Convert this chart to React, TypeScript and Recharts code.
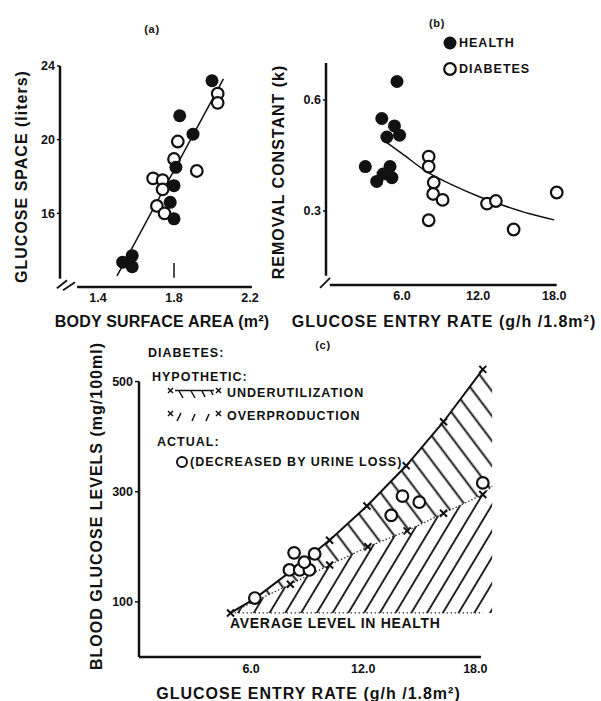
import React from "react";
import {
  ComposedChart,
  Scatter,
  Line,
  Area,
  XAxis,
  YAxis,
  ReferenceLine,
  Legend,
} from "recharts";

// (a) glucose space vs body surface area
const aHealthBsa = [2.0, 1.83, 1.9, 1.81, 1.8, 1.78, 1.8, 1.58, 1.53, 1.58];
const aHealthSpace = [23.2, 21.3, 20.3, 18.5, 17.5, 16.6, 15.7, 13.7, 13.35, 13.1];
const aDiabBsa = [2.03, 2.03, 1.82, 1.8, 1.92, 1.69, 1.74, 1.74, 1.71, 1.75];
const aDiabSpace = [22.5, 22.0, 19.9, 18.95, 18.3, 17.9, 17.8, 17.3, 16.4, 16.0];
const aFitBsa = [1.5, 2.06];
const aFitSpace = [12.6, 23.3];
const aTicksX = [1.4, 1.8, 2.2];
const aTicksY = [16, 20, 24];

// (b) removal constant vs glucose entry rate
const bHealthRate = [5.6, 4.4, 5.4, 5.8, 4.8, 3.1, 5.05, 4.0, 4.5, 5.2];
const bHealthK = [0.65, 0.55, 0.53, 0.505, 0.5, 0.42, 0.42, 0.38, 0.4, 0.39];
const bDiabRate = [8.1, 8.1, 8.5, 8.45, 9.2, 8.1, 12.7, 13.4, 14.8, 18.2];
const bDiabK = [0.447, 0.42, 0.377, 0.346, 0.33, 0.275, 0.32, 0.327, 0.25, 0.35];
const bFitRate = [4.8, 6, 8, 10, 12, 14, 16, 18];
const bFitK = [0.485, 0.455, 0.405, 0.37, 0.34, 0.315, 0.293, 0.276];
const bTicksX = [6, 12, 18];
const bTicksY = [0.3, 0.6];

// (c) blood glucose vs glucose entry rate
const cUpperRate = [4.9, 6.2, 8.1, 10.2, 12.2, 14.3, 16.3, 18.4];
const cUpperLevel = [80, 106, 155, 212, 274, 347, 427, 522];
const cUpperMarked = [true, true, false, true, true, true, true, true];
const cLowerRate = [4.9, 8.1, 10.2, 12.25, 14.35, 16.3, 18.4, 18.9];
const cLowerLevel = [80, 132, 167, 200, 229, 261, 295, 310];
const cLowerMarked = [false, true, true, true, true, true, true, false];
const cHealthRate = [4.9, 18.4];
const cHealthLevel = [80, 80];
const cHatchRate = [4.9, 6.2, 8.1, 10.2, 12.2, 14.3, 16.3, 18.4, 18.9];
const cHatchTop = [80, 106, 155, 212, 274, 347, 427, 522, 500];
const cHatchMid = [80, 100, 132, 167, 200, 229, 261, 295, 310];
const cHatchBase = [80, 80, 80, 80, 80, 80, 80, 80, 80];
const cActualRate = [6.2, 8.3, 9.4, 8.05, 8.6, 9.12, 8.85, 13.5, 14.1, 15.0, 18.4];
const cActualLevel = [107, 189, 187, 158, 158, 158, 172, 257, 292, 281, 316];
const cTicksX = [6, 12, 18];
const cTicksY = [100, 300, 500];

const INK = "#111";
const FONT = "'Liberation Sans', Arial, sans-serif";

const pts = (xs: number[], ys: number[]) => xs.map((x, i) => ({ x, y: ys[i] }));
const marked = (xs: number[], ys: number[], m: boolean[]) =>
  pts(xs, ys).filter((_, i) => m[i]);

const hatchData = cHatchRate.map((x, i) => ({
  x,
  under: [cHatchMid[i], cHatchTop[i]],
  over: [cHatchBase[i], cHatchMid[i]],
}));

const tickStyle = { fill: INK, fontSize: 12.5, fontWeight: 700, fontFamily: FONT };

const FilledDot = (p: any) => <circle cx={p.cx} cy={p.cy} r={6.5} fill={INK} />;
const OpenDot = (p: any) => (
  <circle cx={p.cx} cy={p.cy} r={5.8} fill="#fff" stroke={INK} strokeWidth={2.2} />
);
const Cross = (p: any) => (
  <g stroke={INK} strokeWidth={2}>
    <line x1={p.cx - 3.5} y1={p.cy - 3.5} x2={p.cx + 3.5} y2={p.cy + 3.5} />
    <line x1={p.cx - 3.5} y1={p.cy + 3.5} x2={p.cx + 3.5} y2={p.cy - 3.5} />
  </g>
);

function titleLabel(text: string, dx: number, dy: number, vertical = false, spacing = 1) {
  return (props: any) => {
    const vb = props.viewBox || {};
    const cx = (vb.x ?? 0) + (vb.width ?? 0) / 2 + dx;
    const cy = (vb.y ?? 0) + (vb.height ?? 0) / 2 + dy;
    return (
      <text
        x={cx}
        y={cy}
        textAnchor="middle"
        dominantBaseline="central"
        fontFamily={FONT}
        fontSize={16}
        fontWeight={700}
        letterSpacing={spacing}
        fill={INK}
        transform={vertical ? `rotate(-90 ${cx} ${cy})` : undefined}
      >
        {text}
      </text>
    );
  };
}

const fix1 = (v: number) => v.toFixed(1);

function PanelA() {
  return (
    <ComposedChart width={601} height={701} margin={{ top: 66, left: 59, right: 351, bottom: 413 }}>
      <XAxis
        type="number"
        dataKey="x"
        domain={[1.2, 2.2]}
        ticks={aTicksX}
        tickFormatter={fix1}
        height={1}
        axisLine={false}
        tickLine={false}
        tickSize={3}
        tickMargin={3}
        tick={tickStyle}
        label={titleLabel("BODY SURFACE AREA (m²)", 7, 34, false, 0.2)}
      />
      <YAxis
        type="number"
        dataKey="y"
        domain={[12, 24]}
        ticks={aTicksY}
        width={1}
        axisLine={false}
        tickLine={{ stroke: INK, strokeWidth: 1.5 }}
        tickSize={3}
        tickMargin={2}
        tick={tickStyle}
        label={titleLabel("GLUCOSE SPACE (liters)", -38, 0, true, 1)}
      />
      <ReferenceLine segment={[{ x: 1.2, y: 12.45 }, { x: 1.2, y: 24 }]} stroke={INK} strokeWidth={2.5} ifOverflow="visible" />
      <ReferenceLine segment={[{ x: 1.29, y: 12 }, { x: 2.21, y: 12 }]} stroke={INK} strokeWidth={2.5} ifOverflow="visible" />
      <ReferenceLine segment={[{ x: 1.184, y: 11.93 }, { x: 1.237, y: 12.37 }]} stroke={INK} strokeWidth={1.8} ifOverflow="visible" />
      <ReferenceLine segment={[{ x: 1.216, y: 11.83 }, { x: 1.279, y: 12.26 }]} stroke={INK} strokeWidth={1.8} ifOverflow="visible" />
      <ReferenceLine segment={[{ x: 1.8, y: 12.5 }, { x: 1.8, y: 13.3 }]} stroke={INK} strokeWidth={1.5} ifOverflow="visible" />
      <Line data={pts(aFitBsa, aFitSpace)} dataKey="y" stroke={INK} strokeWidth={1.5} dot={false} isAnimationActive={false} />
      <Scatter data={pts(aDiabBsa, aDiabSpace)} dataKey="y" shape={OpenDot} isAnimationActive={false} />
      <Scatter data={pts(aHealthBsa, aHealthSpace)} dataKey="y" shape={FilledDot} isAnimationActive={false} />
    </ComposedChart>
  );
}

function PanelB() {
  return (
    <ComposedChart width={601} height={701} margin={{ top: 63, left: 325, right: 43, bottom: 415 }}>
      <XAxis
        type="number"
        dataKey="x"
        domain={[0, 18.3]}
        ticks={bTicksX}
        tickFormatter={fix1}
        height={1}
        axisLine={false}
        tickLine={false}
        tickSize={3}
        tickMargin={3}
        tick={tickStyle}
        label={titleLabel("GLUCOSE ENTRY RATE (g/h /1.8m²)", 2, 36, false, 1)}
      />
      <YAxis
        type="number"
        dataKey="y"
        domain={[0.1, 0.7]}
        ticks={bTicksY}
        tickFormatter={fix1}
        width={1}
        axisLine={false}
        tickLine={{ stroke: INK, strokeWidth: 1.5 }}
        tickSize={3}
        tickMargin={2}
        tick={tickStyle}
        label={titleLabel("REMOVAL CONSTANT (k)", -47, -2, true, 1)}
      />
      <ReferenceLine segment={[{ x: 0, y: 0.125 }, { x: 0, y: 0.7 }]} stroke={INK} strokeWidth={2.5} ifOverflow="visible" />
      <ReferenceLine segment={[{ x: 0.3, y: 0.1 }, { x: 18.2, y: 0.1 }]} stroke={INK} strokeWidth={2.5} ifOverflow="visible" />
      <ReferenceLine segment={[{ x: -0.47, y: 0.092 }, { x: 0.32, y: 0.119 }]} stroke={INK} strokeWidth={1.8} ifOverflow="visible" />
      <Line data={pts(bFitRate, bFitK)} dataKey="y" type="monotone" stroke={INK} strokeWidth={1.5} dot={false} isAnimationActive={false} />
      <Scatter name="DIABETES" data={pts(bDiabRate, bDiabK)} dataKey="y" shape={OpenDot} isAnimationActive={false} />
      <Scatter name="HEALTH" data={pts(bHealthRate, bHealthK)} dataKey="y" shape={FilledDot} isAnimationActive={false} />
      <Legend
        verticalAlign="middle"
        align="center"
        layout="horizontal"
        wrapperStyle={{ left: 442, top: 30, width: 130 }}
        content={() => (
          <div style={{ fontFamily: FONT, fontWeight: 700, fontSize: 12.5, letterSpacing: 1, color: INK }}>
            {[
              { label: "HEALTH", filled: true },
              { label: "DIABETES", filled: false },
            ].map((it) => (
              <div key={it.label} style={{ display: "flex", alignItems: "center", height: 26 }}>
                <svg width={16} height={16} style={{ marginRight: 1 }}>
                  {it.filled ? (
                    <circle cx={8} cy={8} r={6.5} fill={INK} />
                  ) : (
                    <circle cx={8} cy={8} r={5.8} fill="#fff" stroke={INK} strokeWidth={2.2} />
                  )}
                </svg>
                <span>{it.label}</span>
              </div>
            ))}
          </div>
        )}
      />
    </ComposedChart>
  );
}

const UnderSymbol = () => (
  <svg width={56} height={14} style={{ display: "block" }}>
    <g stroke={INK} strokeWidth={1.5}>
      <line x1={1} y1={2} x2={6} y2={7} />
      <line x1={1} y1={7} x2={6} y2={2} />
      <line x1={49} y1={2} x2={54} y2={7} />
      <line x1={49} y1={7} x2={54} y2={2} />
      <line x1={8} y1={4.5} x2={47} y2={4.5} />
      <line x1={12} y1={5} x2={16} y2={12} />
      <line x1={24} y1={5} x2={28} y2={12} />
      <line x1={35} y1={5} x2={38} y2={11} />
      <line x1={44} y1={5} x2={46} y2={9} />
    </g>
  </svg>
);

const OverSymbol = () => (
  <svg width={56} height={14} style={{ display: "block" }}>
    <g stroke={INK} strokeWidth={1.5}>
      <line x1={1} y1={2} x2={6} y2={7} />
      <line x1={1} y1={7} x2={6} y2={2} />
      <line x1={49} y1={2} x2={54} y2={7} />
      <line x1={49} y1={7} x2={54} y2={2} />
      <line x1={14} y1={4} x2={10} y2={12} />
      <line x1={28} y1={5} x2={25} y2={12} />
      <line x1={42} y1={5} x2={39} y2={12} />
    </g>
  </svg>
);

function PanelCLegend() {
  const row = (left: number, top: number, child: React.ReactNode) => (
    <div style={{ position: "absolute", left, top, transform: "translateY(-50%)", whiteSpace: "nowrap" }}>
      {child}
    </div>
  );
  return (
    <div style={{ position: "relative", fontFamily: FONT, fontWeight: 700, fontSize: 12.5, letterSpacing: 1, color: INK }}>
      {row(8, 13, "DIABETES:")}
      {row(12, 37, "HYPOTHETIC:")}
      {row(27, 53, <UnderSymbol />)}
      {row(87, 53, "UNDERUTILIZATION")}
      {row(27, 76, <OverSymbol />)}
      {row(87, 76, "OVERPRODUCTION")}
      {row(17, 102, "ACTUAL:")}
      {row(35, 122, (
        <svg width={14} height={14} style={{ display: "block" }}>
          <circle cx={7} cy={7} r={5} fill="#fff" stroke={INK} strokeWidth={2} />
        </svg>
      ))}
      {row(50, 122, "(DECREASED BY URINE LOSS)")}
    </div>
  );
}

function PanelC() {
  return (
    <ComposedChart width={601} height={701} margin={{ top: 365, left: 138, right: 107, bottom: 43 }}>
      <defs>
        <pattern id="hatchUnder" patternUnits="userSpaceOnUse" width={15} height={15} patternTransform="rotate(-37)">
          <line x1={7.5} y1={0} x2={7.5} y2={15} stroke={INK} strokeWidth={1.9} />
        </pattern>
        <pattern id="hatchOver" patternUnits="userSpaceOnUse" width={13.5} height={13.5} patternTransform="rotate(31)">
          <line x1={6.75} y1={0} x2={6.75} y2={13.5} stroke={INK} strokeWidth={1.8} />
        </pattern>
      </defs>
      <XAxis
        type="number"
        dataKey="x"
        domain={[0, 19]}
        ticks={cTicksX}
        tickFormatter={fix1}
        height={1}
        axisLine={false}
        tickLine={false}
        tickSize={3}
        tickMargin={4}
        tick={tickStyle}
        label={titleLabel("GLUCOSE ENTRY RATE (g/h /1.8m²)", -8, 36, false, 1)}
      />
      <YAxis
        type="number"
        dataKey="y"
        domain={[0, 530]}
        ticks={cTicksY}
        width={1}
        axisLine={false}
        tickLine={{ stroke: INK, strokeWidth: 1.5 }}
        tickSize={4}
        tickMargin={2}
        tick={tickStyle}
        label={titleLabel("BLOOD GLUCOSE LEVELS (mg/100ml)", -42, -5, true, 1)}
      />
      <ReferenceLine segment={[{ x: 0, y: 0 }, { x: 0, y: 500 }]} stroke={INK} strokeWidth={2.5} ifOverflow="visible" />
      <ReferenceLine segment={[{ x: 0, y: 0 }, { x: 18.3, y: 0 }]} stroke={INK} strokeWidth={2.5} ifOverflow="visible" />
      <Area data={hatchData} dataKey="over" type="linear" stroke="none" fill="url(#hatchOver)" fillOpacity={1} isAnimationActive={false} />
      <Area data={hatchData} dataKey="under" type="linear" stroke="none" fill="url(#hatchUnder)" fillOpacity={1} isAnimationActive={false} />
      <Line data={pts(cHealthRate, cHealthLevel)} dataKey="y" stroke="#333" strokeWidth={1.2} strokeDasharray="1.5 2.5" dot={false} isAnimationActive={false} />
      <Line data={pts(cLowerRate, cLowerLevel)} dataKey="y" stroke="#333" strokeWidth={1.3} strokeDasharray="1.5 2" dot={false} isAnimationActive={false} />
      <Line data={pts(cUpperRate, cUpperLevel)} dataKey="y" stroke={INK} strokeWidth={2} dot={false} isAnimationActive={false} />
      <Scatter data={marked(cUpperRate, cUpperLevel, cUpperMarked)} dataKey="y" shape={Cross} isAnimationActive={false} />
      <Scatter data={marked(cLowerRate, cLowerLevel, cLowerMarked)} dataKey="y" shape={Cross} isAnimationActive={false} />
      <Scatter data={pts(cActualRate, cActualLevel)} dataKey="y" shape={OpenDot} isAnimationActive={false} />
      <Legend
        verticalAlign="middle"
        align="center"
        layout="horizontal"
        wrapperStyle={{ left: 140, top: 340, width: 300, height: 140 }}
        content={() => <PanelCLegend />}
      />
    </ComposedChart>
  );
}

const note = (left: number, top: number, text: string, size: number) => (
  <div
    style={{
      position: "absolute",
      left,
      top,
      transform: "translate(-50%, -50%)",
      fontFamily: FONT,
      fontWeight: 700,
      fontSize: size,
      letterSpacing: 0.7,
      color: INK,
      whiteSpace: "nowrap",
    }}
  >
    {text}
  </div>
);

export default function App() {
  const layer = { position: "absolute" as const, left: 0, top: 0 };
  return (
    <div style={{ position: "absolute", left: 0, top: 0, width: 601, height: 701, background: "#fff" }}>
      <div style={layer}><PanelA /></div>
      <div style={layer}><PanelB /></div>
      <div style={layer}><PanelC /></div>
      {note(152, 29, "(a)", 11)}
      {note(437, 23, "(b)", 11)}
      {note(323, 345, "(c)", 11)}
      <div
        style={{
          position: "absolute",
          left: 230,
          top: 623,
          transform: "translateY(-50%)",
          fontFamily: FONT,
          fontWeight: 700,
          fontSize: 14,
          letterSpacing: 0.7,
          color: INK,
          whiteSpace: "nowrap",
        }}
      >
        AVERAGE LEVEL IN HEALTH
      </div>
    </div>
  );
}
